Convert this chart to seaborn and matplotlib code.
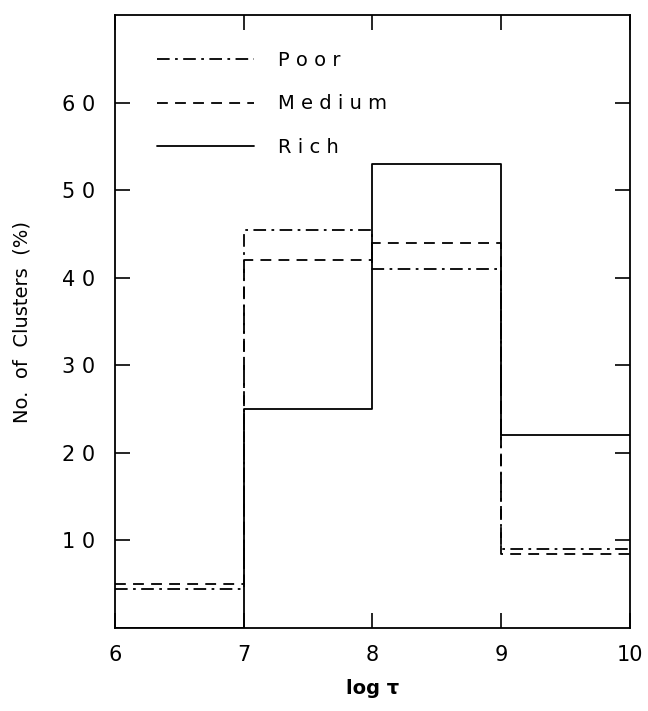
import matplotlib
matplotlib.use("Agg")
import matplotlib.pyplot as plt
import seaborn as sns
import pandas as pd
from matplotlib.lines import Line2D

bin_edges = [6, 7, 8, 9, 10]
poor = [4.5, 45.5, 41.0, 9.0]
medium = [5.0, 42.0, 44.0, 8.5]
rich = [0.0, 25.0, 53.0, 22.0]
series_names = ["Poor", "Medium", "Rich"]
y_ticks = [10, 20, 30, 40, 50, 60]
x_ticks = [6, 7, 8, 9, 10]

sns.set_theme(style="ticks")
plt.rcParams["font.family"] = ["DejaVu Sans"]
plt.rcParams["text.color"] = "black"
plt.rcParams["axes.labelcolor"] = "black"
plt.rcParams["xtick.color"] = "black"
plt.rcParams["ytick.color"] = "black"

rows = []
for name, vals in zip(series_names, [poor, medium, rich]):
    ys = list(vals) + [vals[-1]]
    for x, y in zip(bin_edges, ys):
        rows.append({"x": x, "y": y, "cls": name})
df = pd.DataFrame(rows)

fig = plt.figure(figsize=(6.48, 7.11), dpi=100)
ax = fig.add_axes([0.1775, 0.1167, 0.7945, 0.862])

dashes = {"Poor": (7, 3, 1.5, 3), "Medium": (6, 4), "Rich": ""}
sns.lineplot(data=df, x="x", y="y", style="cls", dashes=dashes,
             color="black", linewidth=1.3, drawstyle="steps-post",
             ax=ax, legend=False, estimator=None, sort=False)

ax.set_xlim(6, 10)
ax.set_ylim(0, 70)
ax.set_xticks(x_ticks)
ax.set_yticks(y_ticks)
ax.set_xticklabels([str(v) for v in x_ticks], fontsize=15)
ax.set_yticklabels([str(v)[0] + " " + str(v)[1] for v in y_ticks], fontsize=15)
ax.tick_params(axis="both", direction="in", length=11, width=1.2, top=True, right=True, colors="black")
ax.tick_params(axis="y", pad=14)
ax.tick_params(axis="x", pad=12)
for s in ax.spines.values():
    s.set_linewidth(1.3)
    s.set_color("black")
ax.set_xlabel("log τ", fontsize=14, fontweight="bold", va="center")
ax.xaxis.set_label_coords(0.5, -0.098)
ax.set_ylabel("No.  of  Clusters  (%)", fontsize=14, labelpad=22)

handles = []
for name in series_names:
    d = dashes[name]
    if d:
        handles.append(Line2D([], [], color="black", linewidth=1.3, dashes=d))
    else:
        handles.append(Line2D([], [], color="black", linewidth=1.3))
leg = ax.legend(handles, ["P o o r", "M e d i u m", "R i c h"], loc="upper left",
                bbox_to_anchor=(0.048, 0.97), frameon=False, fontsize=14,
                handlelength=5.0, handletextpad=1.2, labelspacing=1.25)
fig.savefig("out.png", dpi=100)
